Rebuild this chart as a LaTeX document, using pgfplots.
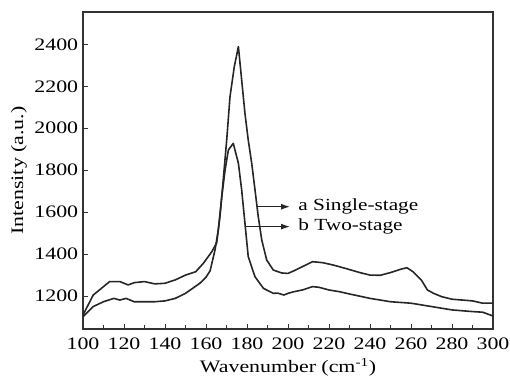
\documentclass[border=0pt]{standalone}
\usepackage{fontspec}
\setmainfont{Liberation Serif}[FakeStretch=1.25]
\usepackage{pgfplots}
\pgfplotsset{compat=1.18}
\usetikzlibrary{arrows.meta}
\begin{document}
\fontsize{17}{20}\selectfont
\begin{tikzpicture}
\begin{axis}[
  scale only axis, width=410pt, height=317pt,
  xmin=100, xmax=300, ymin=1043, ymax=2554,
  xtick={100,120,...,300}, minor x tick num=1,
  ytick={1200,1400,...,2400},
  tick align=inside, xtick pos=bottom, ytick pos=left,
  major tick length=5pt, minor tick length=4pt,
  axis line style={line width=1.2pt, black!80}, every tick/.style={line width=1pt, black!80},
  tick label style={font=\fontsize{17.5}{20}\selectfont},
  label style={font=\fontsize{17.5}{20}\selectfont},
  /pgf/number format/assume math mode=true,
  /pgf/number format/1000 sep={},
  xticklabel style={yshift=-3pt},
  yticklabel style={xshift=1pt},
  xlabel={Wavenumber (cm\textsuperscript{-1})},
  ylabel={Intensity (a.u.)},
  ylabel style={yshift=-4pt},
  xlabel style={yshift=3pt},
]
\addplot[black!85, line width=1.6pt, line join=round] coordinates {
(100,1110)(105,1205)(110,1245)(113,1269)(118,1269)(122,1253)(125,1264)(130,1269)
(135,1258)(140,1261)(145,1277)(150,1300)(155,1316)(158.7,1356)(162.8,1411)(165.2,1453)
(166.8,1578)(168.4,1753)(170.1,1944)(171.7,2150)(173.8,2293)(175.8,2389)(177.4,2230)
(179,2071)(180.6,1944)(182.3,1833)(183.9,1706)(185.5,1578)(187.2,1467)(189.6,1372)
(192.8,1324)(197,1310)(200,1308)(203,1321)(207,1340)(212,1364)(217,1359)(222,1348)(228,1332)(235,1312)
(240,1300)(245,1299)(250,1312)(255,1328)(258,1335)(261,1316)(265,1277)(268,1229)
(271,1213)(275,1197)(280,1185)(285,1181)(290,1177)(295,1166)(300,1166)
};
\addplot[black!85, line width=1.6pt, line join=round] coordinates {
(100,1102)(105,1150)(110,1173)(115,1189)(118,1181)(121,1189)(125,1173)(130,1173)
(135,1173)(140,1177)(145,1189)(150,1213)(157,1261)(160,1290)(162,1320)(164.4,1420)
(166,1515)(167.7,1674)(169.3,1800)(170.9,1896)(173.3,1928)(175.8,1833)(177.4,1706)
(179,1547)(180.6,1388)(183.9,1292)(188,1237)(192.8,1213)
(195,1214)(198,1205)(200,1213)(203,1221)(207,1229)(212,1245)(215,1242)(220,1229)
(225,1221)(230,1210)(240,1189)(250,1173)(260,1166)(270,1150)(280,1134)(290,1126)
(295,1123)(300,1105)
};
\draw[-{Latex[length=9pt,width=6pt]}, line width=1.2pt, black!85] (axis cs:184.6,1626) -- (axis cs:201,1626);
\draw[-{Latex[length=9pt,width=6pt]}, line width=1.2pt, black!85] (axis cs:179.2,1531) -- (axis cs:201,1531);
\node[anchor=west, inner sep=0pt] at (axis cs:205,1626) {a Single-stage};
\node[anchor=west, inner sep=0pt] at (axis cs:205,1531) {b Two-stage};
\end{axis}
\pgfresetboundingbox
\path ([xshift=-83pt,yshift=-54pt]current axis.south west) rectangle ([xshift=17pt,yshift=12pt]current axis.north east);
\end{tikzpicture}
\end{document}
